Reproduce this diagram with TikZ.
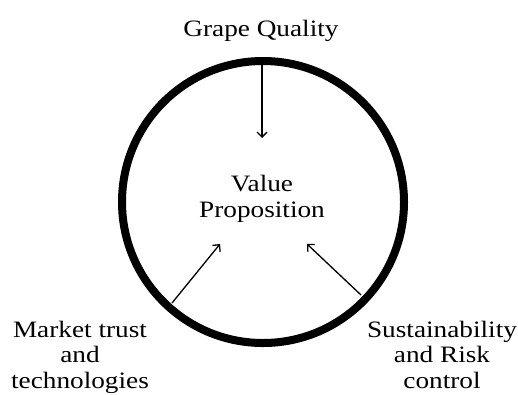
\documentclass[tikz,border=0pt]{standalone}
\usepackage{fontspec}
\setmainfont[FakeStretch=1.16]{Liberation Serif}
\usetikzlibrary{arrows.meta}
\begin{document}
\begin{tikzpicture}[x=1pt,y=-1pt,
  lbl/.style={align=center,inner sep=0pt,font=\fontsize{23.5}{25.5}\selectfont,anchor=base},
  arr/.style={line width=1.3pt,-{Straight Barb[length=5pt,width=10pt,line width=1.3pt]}}]
\useasboundingbox (0,0) rectangle (518,394);
\node[circle,draw,line width=8pt,minimum size=282pt,inner sep=0pt] (c) at (263,202) {};
\node[lbl] (gq) at (261,36) {Grape Quality};
\node[lbl] (vp) at (262,217) {Value\\Proposition};
\node[lbl] (mt) at (80,388) {Market trust\\and\\technologies};
\node[lbl] (sr) at (442,388) {Sustainability\\and Risk\\control};
\coordinate (t0) at (262,63);
\coordinate (t1) at (262,138);
\coordinate (l0) at (172,303);
\coordinate (l1) at (220,244);
\coordinate (r0) at (361,295);
\coordinate (r1) at (307,244);
\draw[arr] (t0) -- (t1);
\draw[arr] (l0) -- (l1);
\draw[arr] (r0) -- (r1);
\end{tikzpicture}
\end{document}
